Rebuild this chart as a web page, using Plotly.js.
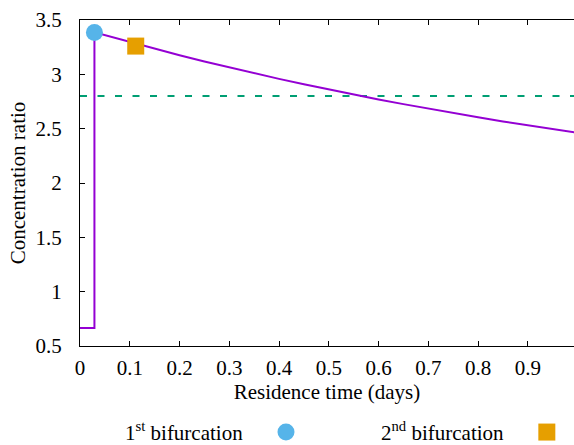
<!DOCTYPE html>
<html>
<head>
<meta charset="utf-8">
<script src="https://cdn.plot.ly/plotly-3.0.1.min.js"></script>
<style>html,body{margin:0;padding:0;background:#fff}#chart{width:574px;height:445px}</style>
</head>
<body>
<div id="chart"></div>
<script>
// Residence time (days) and concentration ratio of the solution branch
const residenceTime = [0, 0.029, 0.029, 0.05, 0.1, 0.15, 0.2, 0.25, 0.3, 0.35, 0.4, 0.45, 0.5, 0.55, 0.6, 0.65, 0.7, 0.75, 0.8, 0.85, 0.9, 0.95, 1.0];
const concentrationRatio = [0.666, 0.666, 3.386, 3.36, 3.296, 3.235, 3.176, 3.118, 3.063, 3.01, 2.958, 2.908, 2.86, 2.814, 2.769, 2.726, 2.684, 2.644, 2.605, 2.567, 2.531, 2.496, 2.462];
// Threshold line
const thresholdX = [0, 1.0];
const thresholdY = [2.8, 2.8];
// Bifurcation points
const bif1X = [0.029];
const bif1Y = [3.386];
const bif2X = [0.112];
const bif2Y = [3.26];
const legendLabels = ["1<sup>st</sup> bifurcation", "2<sup>nd</sup> bifurcation"];
const xTicks = [0, 0.1, 0.2, 0.3, 0.4, 0.5, 0.6, 0.7, 0.8, 0.9];
const yTicks = [0.5, 1, 1.5, 2, 2.5, 3, 3.5];

const purple = "#9400D3", blue = "#56B4E9", orange = "#E69F00", green = "#009E73";
const F = () => ({family: 'Liberation Serif', size: 21, color: '#000'});

const traces = [
  {x: thresholdX, y: thresholdY, mode: "lines", line: {color: green, width: 2, dash: "7px,10.5px"}, hoverinfo: "skip", showlegend: false},
  {x: residenceTime, y: concentrationRatio, mode: "lines", line: {color: purple, width: 2}, showlegend: false},
  {x: bif1X, y: bif1Y, mode: "markers", marker: {symbol: "circle", size: 17, color: blue}, name: "1st bifurcation", showlegend: false},
  {x: bif2X, y: bif2Y, mode: "markers", marker: {symbol: "square", size: 17, color: orange}, name: "2nd bifurcation", showlegend: false}
];

const layout = {
  width: 574, height: 445,
  margin: {l: 80, r: 0, t: 20, b: 99},
  xaxis: {
    showgrid: false, zeroline: false, showline: true, linecolor: "#000", linewidth: 1.2,
    ticks: "inside", ticklen: 5, tickwidth: 1, tickcolor: "#000", tickfont: F(),
    range: [0, 0.9928], tickvals: xTicks, mirror: "ticks", ticklabelstandoff: 3,
    title: {text: "Residence time (days)", font: F(), standoff: 0}
  },
  yaxis: {
    showgrid: false, zeroline: false, showline: true, linecolor: "#000", linewidth: 1.2,
    ticks: "inside", ticklen: 5, tickwidth: 1, tickcolor: "#000", tickfont: F(),
    range: [0.5, 3.5], tickvals: yTicks, ticklabelstandoff: 13,
    title: {text: "Concentration ratio", font: F(), standoff: 4}
  },
  showlegend: false,
  annotations: [
    {xref: "paper", yref: "paper", x: 0.334, y: -0.262, xanchor: "right", yanchor: "middle", text: legendLabels[0], showarrow: false, font: F()},
    {xref: "paper", yref: "paper", x: 0.862, y: -0.262, xanchor: "right", yanchor: "middle", text: legendLabels[1], showarrow: false, font: F()}
  ],
  shapes: [
    {type: "circle", xref: "paper", yref: "paper", xsizemode: "pixel", ysizemode: "pixel", xanchor: 0.417, yanchor: -0.264, x0: -8.5, x1: 8.5, y0: -8.5, y1: 8.5, fillcolor: blue, line: {width: 0}},
    {type: "rect", xref: "paper", yref: "paper", xsizemode: "pixel", ysizemode: "pixel", xanchor: 0.945, yanchor: -0.264, x0: -8.5, x1: 8.5, y0: -8.5, y1: 8.5, fillcolor: orange, line: {width: 0}}
  ]
};

Plotly.newPlot("chart", traces, layout, {displayModeBar: false});
</script>
</body>
</html>
